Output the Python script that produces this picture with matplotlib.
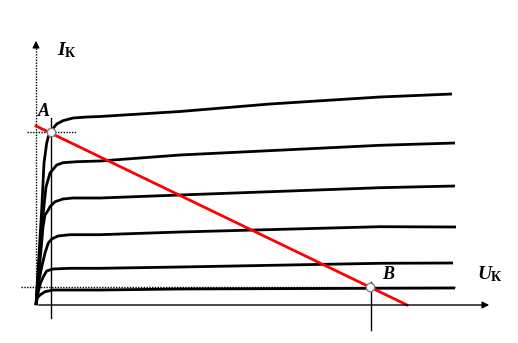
import matplotlib
matplotlib.use("Agg")
import matplotlib.pyplot as plt

# output characteristics of a transistor
# U (collector voltage) and I (collector current) in arbitrary units
u_1 = [0, 5.7, 8, 10.7, 13.3, 15.7, 20.7, 27, 37, 51, 64, 144, 234, 344, 416]
i_1 = [0, 95, 142, 162, 172, 175, 181, 184.3, 187, 188, 188.5, 193.5, 201, 208, 211]

u_2 = [0, 4, 7, 10, 14, 20.7, 27, 40.7, 64, 144, 344, 419]
i_2 = [0, 55, 90, 118, 132, 140, 142.3, 143.3, 144, 150, 159.7, 162]

u_3 = [0, 5, 7, 9, 12.3, 14, 19, 27, 37, 64, 144, 344, 419]
i_3 = [0, 55, 78, 90, 95, 98.3, 103.3, 106, 107, 107, 110, 117.3, 119]

u_4 = [0, 3, 5.7, 9, 12.3, 15.7, 22, 34, 64, 144, 344, 420]
i_4 = [0, 25, 38, 52, 62, 66, 69, 70.3, 70.3, 73, 78.3, 78]

u_5 = [0, 2, 4.5, 7.3, 10.7, 17, 34, 64, 144, 344, 417]
i_5 = [0, 12, 22, 28.3, 34, 36, 36.7, 36.7, 38, 41.7, 42]

u_6 = [0, 1, 4, 9, 17, 64, 144, 419]
i_6 = [0, 7, 10, 13.3, 15, 15, 16, 17]

curves = [(u_1, i_1), (u_2, i_2), (u_3, i_3), (u_4, i_4), (u_5, i_5), (u_6, i_6)]

# load line and working points
load_u = [0, 371]
load_i = [179, 0]
point_a = (15, 173)
point_b = (334, 18)

fig = plt.figure(figsize=(5.18, 3.43), dpi=100)
ax = fig.add_axes([0, 0, 1, 1])
ax.set_xlim(-36, 482)
ax.set_ylim(-38, 305)
ax.axis('off')

# axes with arrows
ax.plot([0, 0], [0, 258], color='black', lw=1, ls=(0, (1, 1)))
ax.annotate('', xy=(0, 267), xytext=(0, 255),
            arrowprops=dict(arrowstyle='-|>', color='black', lw=1, mutation_scale=10))
ax.annotate('', xy=(456, 0), xytext=(0, 0),
            arrowprops=dict(arrowstyle='-|>', color='black', lw=1, mutation_scale=10))

for u, i in curves:
    ax.plot(u, i, color='black', lw=2, solid_capstyle='butt')

# guide lines through A and B
ax.plot([point_a[0], point_a[0]], [187, -13], color='black', lw=1)
ax.plot([-9, 40], [point_a[1], point_a[1]], color='black', lw=1, ls=(0, (1, 1)))
ax.plot([point_b[0] + 1, point_b[0] + 1], [23, -25], color='black', lw=1)
ax.plot([-15, 419], [point_b[1], point_b[1]], color='black', lw=1, ls=(0, (1, 1)))

ax.plot(load_u, load_i, color='red', lw=2)

ax.plot(*point_a, 'o', ms=6, mfc='white', mec='gray', mew=1)
ax.plot(*point_b, 'o', ms=6, mfc='white', mec='gray', mew=1)

font = dict(family='Liberation Serif', weight='bold', style='italic', color='black')
ax.text(2, 189, 'A', fontsize=13, **font)
ax.text(346, 26, 'B', fontsize=13, **font)
ax.text(21, 250, 'I', fontsize=14, **font)
ax.text(29, 248, 'К', fontsize=10, family='Liberation Serif', weight='bold')
ax.text(441, 26, 'U', fontsize=14, **font)
ax.text(455, 24, 'К', fontsize=10, family='Liberation Serif', weight='bold')

fig.savefig('out.png', dpi=100)
